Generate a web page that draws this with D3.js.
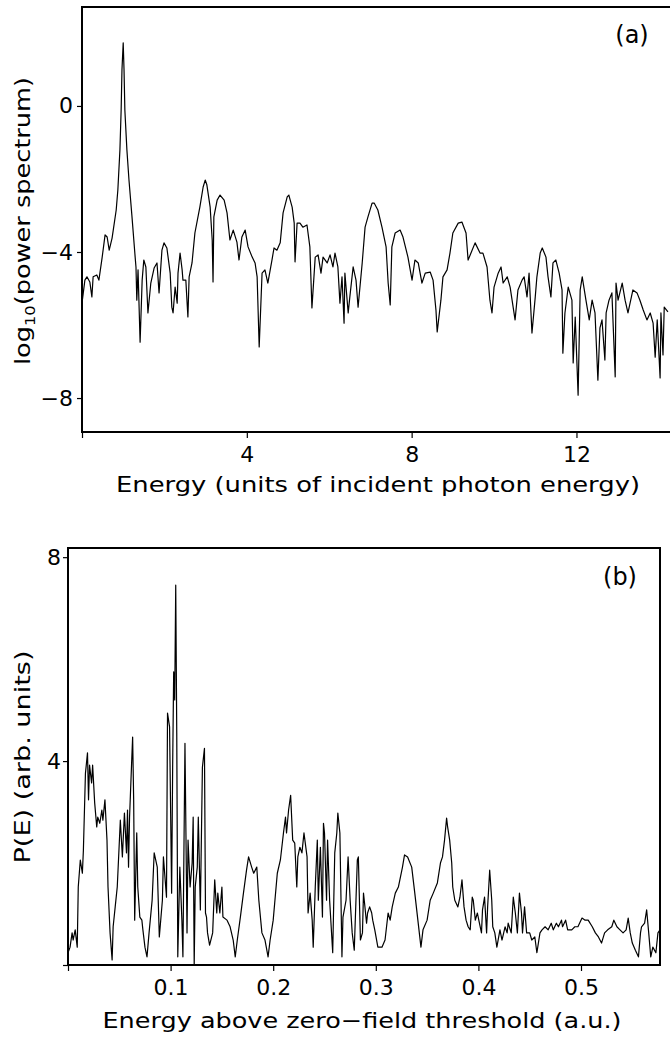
<!DOCTYPE html>
<html>
<head>
<meta charset="utf-8">
<script src="https://cdn.jsdelivr.net/npm/d3@7"></script>
<style>
    body {margin: 0; background: #fff;}
    svg text {font-family: "DejaVu Sans", sans-serif; fill: #000;}
</style>
</head>
<body>
<svg id="fig" width="670" height="1037"></svg>
<script>

// panel (a): log10 of the power spectrum vs energy (units of photon energy)
var energyA = [
    0.00,0.07,0.12,0.19,0.24,0.27,0.36,0.41,0.49,0.56,
    0.61,0.66,0.73,0.83,0.87,0.92,0.95,0.97,1.00,1.02,
    1.04,1.09,1.14,1.21,1.29,1.31,1.33,1.36,1.41,1.46,
    1.50,1.55,1.60,1.67,1.75,1.82,1.87,1.94,1.99,2.06,
    2.14,2.18,2.21,2.26,2.31,2.33,2.38,2.43,2.45,2.52,
    2.57,2.60,2.67,2.74,2.86,2.94,2.99,3.03,3.11,3.16,
    3.18,3.20,3.28,3.35,3.45,3.52,3.59,3.67,3.76,3.81,
    3.88,3.96,4.03,4.13,4.20,4.25,4.30,4.37,4.44,4.51,
    4.61,4.66,4.73,4.81,4.88,4.98,5.02,5.10,5.15,5.17,
    5.22,5.29,5.36,5.46,5.53,5.58,5.66,5.73,5.80,5.85,
    5.95,6.02,6.09,6.14,6.21,6.26,6.31,6.36,6.38,6.46,
    6.50,6.58,6.65,6.70,6.80,6.87,6.94,7.04,7.09,7.18,
    7.28,7.38,7.43,7.48,7.52,7.60,7.72,7.79,7.91,8.01,
    8.08,8.16,8.25,8.33,8.45,8.52,8.59,8.62,8.71,8.76,
    8.86,8.93,9.00,9.13,9.22,9.32,9.37,9.44,9.54,9.66,
    9.73,9.83,9.90,9.95,10.00,10.10,10.17,10.22,10.32,10.39,
    10.51,10.58,10.68,10.73,10.80,10.85,10.92,11.00,11.04,11.12,
    11.17,11.26,11.31,11.38,11.43,11.50,11.58,11.65,11.67,11.72,
    11.80,11.89,11.92,11.97,12.04,12.09,12.14,12.23,12.31,12.38,
    12.45,12.52,12.57,12.62,12.69,12.72,12.79,12.86,12.94,12.96,
    13.01,13.11,13.18,13.25,13.37,13.47,13.54,13.62,13.71,13.79,
    13.86,13.91,13.96,14.03,14.05,14.10,14.13,14.22
];
var logPowerA = [
    -5.40,-4.77,-4.68,-4.82,-5.23,-4.68,-4.63,-4.77,-4.14,-3.53,
    -3.59,-3.95,-3.62,-2.85,-2.30,-1.21,-0.11,0.99,1.73,0.99,
    -0.11,-1.21,-2.03,-2.99,-4.14,-4.41,-5.32,-4.49,-6.47,-4.77,
    -4.22,-4.41,-5.67,-4.85,-4.44,-4.30,-5.12,-3.95,-3.75,-3.89,
    -4.58,-5.51,-5.67,-4.96,-5.40,-4.58,-4.03,-4.49,-4.77,-4.77,
    -5.78,-4.68,-4.30,-3.48,-2.77,-2.22,-2.03,-2.16,-2.77,-3.67,
    -4.82,-3.04,-2.58,-2.44,-2.58,-2.93,-3.67,-3.40,-3.73,-4.22,
    -3.59,-3.40,-3.86,-4.14,-4.30,-4.68,-6.60,-4.58,-4.49,-4.85,
    -4.22,-3.89,-3.95,-3.75,-2.93,-2.49,-2.44,-2.77,-3.21,-4.27,
    -3.21,-3.21,-3.32,-3.26,-3.86,-5.53,-4.14,-4.08,-4.58,-4.14,
    -4.30,-4.08,-4.41,-4.03,-4.41,-5.40,-4.68,-5.95,-4.58,-5.67,
    -5.23,-4.41,-4.77,-5.51,-4.30,-3.32,-3.04,-2.66,-2.66,-2.85,
    -3.32,-3.86,-4.85,-5.45,-3.86,-3.48,-3.40,-3.59,-4.14,-4.77,
    -4.22,-4.30,-4.85,-4.58,-4.55,-4.77,-5.59,-6.19,-5.32,-4.68,
    -4.49,-4.03,-3.48,-3.21,-3.18,-3.48,-4.22,-4.03,-3.75,-4.03,
    -4.03,-4.41,-5.32,-5.67,-4.96,-4.58,-4.41,-4.85,-4.68,-4.96,
    -5.86,-5.04,-4.77,-4.68,-5.23,-4.58,-6.22,-5.23,-4.68,-4.03,
    -3.89,-4.14,-4.68,-5.23,-4.30,-4.22,-4.58,-5.04,-6.77,-5.67,
    -4.96,-5.32,-7.04,-5.78,-7.92,-5.04,-4.68,-5.32,-5.86,-5.32,
    -5.67,-7.51,-6.08,-5.86,-6.96,-5.67,-5.32,-5.12,-7.42,-4.85,
    -5.32,-4.85,-5.32,-5.67,-5.04,-5.12,-5.32,-5.59,-5.86,-5.67,
    -5.95,-6.88,-5.86,-7.45,-5.67,-6.82,-5.51,-5.64
];

// panel (b): P(E) vs energy above zero-field threshold (a.u.)
var energyB = [
    0.000,0.002,0.004,0.005,0.007,0.009,0.010,0.012,0.014,0.015,
    0.017,0.019,0.020,0.021,0.023,0.024,0.026,0.028,0.029,0.031,
    0.033,0.034,0.036,0.038,0.039,0.041,0.043,0.044,0.046,0.048,
    0.051,0.053,0.055,0.057,0.058,0.059,0.060,0.062,0.063,0.064,
    0.065,0.067,0.068,0.070,0.072,0.073,0.075,0.077,0.079,0.082,
    0.084,0.087,0.089,0.092,0.093,0.096,0.097,0.099,0.101,0.102,
    0.103,0.104,0.105,0.106,0.107,0.109,0.111,0.112,0.114,0.116,
    0.117,0.119,0.121,0.122,0.123,0.124,0.126,0.127,0.129,0.131,
    0.133,0.134,0.135,0.136,0.138,0.141,0.143,0.145,0.146,0.148,
    0.150,0.151,0.155,0.158,0.161,0.163,0.165,0.168,0.171,0.174,
    0.176,0.179,0.181,0.184,0.186,0.189,0.192,0.195,0.197,0.200,
    0.204,0.207,0.210,0.212,0.213,0.215,0.217,0.219,0.221,0.223,
    0.224,0.226,0.228,0.230,0.233,0.234,0.236,0.238,0.239,0.241,
    0.243,0.244,0.246,0.248,0.249,0.250,0.252,0.253,0.255,0.258,
    0.260,0.262,0.263,0.265,0.267,0.268,0.271,0.273,0.275,0.277,
    0.279,0.282,0.283,0.285,0.287,0.288,0.289,0.291,0.292,0.294,
    0.296,0.297,0.299,0.302,0.306,0.309,0.312,0.314,0.316,0.319,
    0.322,0.326,0.328,0.331,0.335,0.338,0.341,0.344,0.346,0.350,
    0.353,0.356,0.360,0.363,0.365,0.367,0.369,0.370,0.372,0.374,
    0.375,0.377,0.380,0.382,0.384,0.386,0.388,0.390,0.392,0.394,
    0.395,0.397,0.399,0.401,0.403,0.404,0.406,0.408,0.409,0.411,
    0.413,0.414,0.416,0.418,0.421,0.423,0.426,0.428,0.429,0.432,
    0.434,0.436,0.438,0.440,0.442,0.443,0.445,0.447,0.450,0.452,
    0.455,0.457,0.460,0.462,0.465,0.468,0.471,0.473,0.476,0.478,
    0.481,0.482,0.485,0.487,0.491,0.494,0.497,0.501,0.504,0.507,
    0.511,0.514,0.517,0.520,0.523,0.526,0.530,0.532,0.535,0.538,
    0.541,0.544,0.546,0.548,0.550,0.553,0.556,0.558,0.559,0.562,
    0.564,0.566,0.568,0.570,0.573,0.575,0.577
];
var probB = [
    0.24,0.35,0.63,0.49,0.69,0.35,1.53,2.06,1.80,2.25,
    3.76,4.16,3.24,3.92,3.57,3.92,3.18,2.71,2.90,2.78,
    3.04,2.84,3.24,2.45,1.53,0.63,0.10,0.75,1.14,1.53,
    2.84,2.12,2.98,2.20,3.04,1.92,2.90,3.96,4.47,3.24,
    0.88,2.59,1.53,0.94,0.88,0.69,0.35,0.16,0.63,1.27,
    2.20,1.92,0.55,1.27,2.12,1.33,4.94,4.67,1.41,3.88,
    5.75,5.20,7.45,4.55,0.16,1.92,0.88,0.16,4.35,0.63,
    2.45,1.53,2.00,2.90,0.00,1.53,1.92,2.90,1.08,3.88,
    4.25,1.02,0.94,0.63,0.39,0.63,1.67,1.02,1.41,1.02,
    1.53,0.94,0.88,0.75,0.49,0.16,0.49,0.94,1.41,1.86,
    2.12,1.92,1.80,1.92,1.27,0.63,0.49,0.16,0.49,0.88,
    1.80,2.06,2.59,2.90,2.59,3.04,3.33,2.45,2.39,1.53,
    2.12,2.31,2.20,2.59,2.12,1.02,1.41,0.88,0.35,1.53,
    2.45,1.27,2.31,0.94,2.78,2.59,1.27,2.45,1.27,0.24,
    2.20,2.59,2.98,2.59,0.16,0.94,1.27,2.12,1.27,0.63,
    0.29,2.06,2.12,0.49,0.63,1.41,1.22,0.82,1.02,1.14,
    1.02,0.88,0.69,0.35,0.35,0.49,1.02,0.88,1.14,1.41,
    1.53,1.92,2.16,2.12,1.92,1.41,0.88,0.35,0.69,0.88,
    1.27,1.41,1.61,2.00,2.12,2.45,2.88,2.71,2.45,2.00,
    1.53,1.27,1.14,1.33,1.67,1.14,0.88,0.75,0.69,1.33,
    1.27,0.88,1.02,0.82,0.63,1.08,1.33,0.63,1.14,1.86,
    1.27,0.75,0.63,0.35,0.69,0.49,0.75,0.63,0.82,0.63,
    1.33,1.02,0.63,1.41,1.02,0.63,1.14,0.63,0.63,0.49,
    0.55,0.24,0.63,0.69,0.75,0.69,0.82,0.69,0.82,0.75,
    0.88,0.75,0.88,0.69,0.69,0.75,0.75,0.92,0.88,0.88,
    0.75,0.63,0.55,0.43,0.63,0.69,0.75,0.88,0.75,0.69,
    0.63,0.69,0.92,0.63,0.43,0.29,0.16,0.63,0.75,0.82,
    1.08,0.63,0.16,0.35,0.24,0.63,0.69
];

var ticksAx = [0, 4, 8, 12],
    ticksAy = [0, -4, -8],
    ticksBx = [0, 0.1, 0.2, 0.3, 0.4, 0.5],
    ticksBy = [0, 4, 8];

var svg = d3.select("#fig");

var drawPanel = function (p) {
    var x = d3.scaleLinear().domain(p.xDomain).range(p.xRange),
        y = d3.scaleLinear().domain(p.yDomain).range(p.yRange);

    var g = svg.append("g");

    var pts = p.xs.map(function (d, i) {
        return [d, p.ys[i]];
    });

    g.append("path")
        .datum(pts)
        .attr("fill", "none")
        .attr("stroke", "#000")
        .attr("stroke-width", 1.2)
        .attr("stroke-linejoin", "round")
        .attr("d", d3.line()
            .x(function (d) { return x(d[0]) })
            .y(function (d) { return y(d[1]) }));

    // x axis
    var xa = g.append("g")
        .attr("transform", "translate(0," + y.range()[0] + ")")
        .call(d3.axisBottom(x)
            .tickValues(p.xTicks)
            .tickSize(6)
            .tickPadding(8)
            .tickFormat(function (d) { return d === 0 ? "" : p.xFmt(d) }));

    // y axis
    var ya = g.append("g")
        .attr("transform", "translate(" + x.range()[0] + ",0)")
        .call(d3.axisLeft(y)
            .tickValues(p.yTicks)
            .tickSize(p.yTickSize)
            .tickPadding(p.yTickPad)
            .tickFormat(function (d) { return (d === 0 && !p.zeroLabel) ? "" : p.yFmt(d) }));

    [xa, ya].forEach(function (a) {
        a.select(".domain").remove();
        a.selectAll("line").attr("stroke", "#000").attr("stroke-width", 1.2);
        a.selectAll("text")
            .style("font-family", '"DejaVu Sans", sans-serif')
            .style("font-size", "22px")
            .attr("fill", "#000");
    });

    // frame
    var x0 = x.range()[0], x1 = x.range()[1],
        y0 = y.range()[0], y1 = y.range()[1];
    var frame = [[x0, y1, x1, y1], [x0, y1, x0, y0], [x0, y0, x1, y0]];
    if (p.rightEdge) frame.push([x1, y1, x1, y0]);
    g.selectAll(".frame")
        .data(frame)
        .enter()
        .append("line")
        .attr("class", "frame")
        .attr("x1", function (d) { return d[0] })
        .attr("y1", function (d) { return d[1] })
        .attr("x2", function (d) { return d[2] })
        .attr("y2", function (d) { return d[3] })
        .attr("stroke", "#000")
        .attr("stroke-width", 2)
        .attr("stroke-linecap", "square");

    // x title
    g.append("text")
        .attr("x", p.xTitle.x)
        .attr("y", p.xTitle.y)
        .attr("text-anchor", "middle")
        .attr("textLength", p.xTitle.len)
        .attr("lengthAdjust", "spacingAndGlyphs")
        .style("font-size", "22px")
        .text(p.xTitle.text);

    // y title, rotated
    var yt = g.append("text")
        .attr("transform", "translate(" + p.yTitle.x + "," + p.yTitle.y + ") rotate(-90)")
        .attr("text-anchor", "middle")
        .attr("dy", "0.36em")
        .attr("textLength", p.yTitle.len)
        .attr("lengthAdjust", "spacingAndGlyphs")
        .style("font-size", "22px");
    p.yTitle.parts.forEach(function (t) {
        var s = yt.append("tspan").text(t.s);
        if (t.sub) s.style("font-size", "14px").attr("dy", "5");
        if (t.back) s.attr("dy", "-5");
    });

    // panel tag
    g.append("text")
        .attr("x", p.tag.x)
        .attr("y", p.tag.y)
        .attr("text-anchor", "middle")
        .style("font-size", "24px")
        .text(p.tag.text);
};

drawPanel({
    xs: energyA, ys: logPowerA,
    xDomain: [0, 14.27], xRange: [82, 670],
    yDomain: [-8.93, 2.71], yRange: [432, 7],
    xTicks: ticksAx, yTicks: ticksAy,
    xFmt: d3.format("d"), yFmt: d3.format("d"),
    yTickSize: 5, yTickPad: 4, zeroLabel: true,
    rightEdge: false,
    xTitle: {text: "Energy (units of incident photon energy)", x: 378, y: 492, len: 524},
    yTitle: {x: 22, y: 221, len: 288, parts: [
        {s: "log"}, {s: "10", sub: true}, {s: "(power spectrum)", back: true}]},
    tag: {text: "(a)", x: 632, y: 43}
});

drawPanel({
    xs: energyB, ys: probB,
    xDomain: [0, 0.577], xRange: [68, 660],
    yDomain: [0, 8.18], yRange: [965, 548],
    xTicks: ticksBx, yTicks: ticksBy,
    xFmt: d3.format(".1f"), yFmt: d3.format("d"),
    yTickSize: 5, yTickPad: 2, zeroLabel: false,
    rightEdge: true,
    xTitle: {text: "Energy above zero\u2212field threshold (a.u.)", x: 362, y: 1028, len: 519},
    yTitle: {x: 22, y: 757, len: 213, parts: [{s: "P(E) (arb. units)"}]},
    tag: {text: "(b)", x: 620, y: 585}
});

</script>
</body>
</html>
